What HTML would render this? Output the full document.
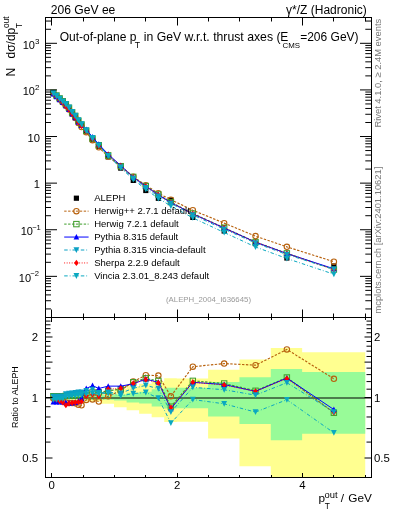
<!DOCTYPE html><html><head><meta charset="utf-8"><style>html,body{margin:0;padding:0;background:#fff;width:393px;height:512px;overflow:hidden}svg{display:block;will-change:transform}</style></head><body>
<svg width="393" height="512" viewBox="0 0 393 512" font-family='"Liberation Sans", sans-serif'>
<path d="M51.37,394.92 L54.50,394.92 L54.50,394.92 L57.64,394.92 L57.64,394.92 L60.77,394.92 L60.77,394.92 L63.91,394.92 L63.91,394.92 L67.04,394.92 L67.04,394.92 L70.18,394.92 L70.18,394.92 L73.31,394.92 L73.31,394.92 L76.45,394.92 L76.45,394.92 L79.58,394.92 L79.58,394.92 L82.72,394.92 L82.72,393.66 L88.98,393.66 L88.98,393.66 L95.25,393.66 L95.25,393.66 L101.52,393.66 L101.52,391.68 L114.06,391.68 L114.06,388.78 L126.60,388.78 L126.60,386.29 L139.14,386.29 L139.14,383.79 L151.68,383.79 L151.68,381.44 L164.22,381.44 L164.22,378.37 L176.75,378.37 L176.75,378.51 L208.10,378.51 L208.10,369.70 L239.45,369.70 L239.45,359.53 L270.79,359.53 L270.79,347.95 L302.14,347.95 L302.14,352.26 L365.23,352.26 L365.23,477.50 L302.14,477.50 L302.14,477.50 L270.79,477.50 L270.79,466.24 L239.45,466.24 L239.45,438.53 L208.10,438.53 L208.10,421.80 L176.75,421.80 L176.75,422.03 L164.22,422.03 L164.22,417.20 L151.68,417.20 L151.68,413.77 L139.14,413.77 L139.14,410.36 L126.60,410.36 L126.60,407.18 L114.06,407.18 L114.06,403.74 L101.52,403.74 L101.52,401.52 L95.25,401.52 L95.25,401.52 L88.98,401.52 L88.98,401.52 L82.72,401.52 L82.72,400.16 L79.58,400.16 L79.58,400.16 L76.45,400.16 L76.45,400.16 L73.31,400.16 L73.31,400.16 L70.18,400.16 L70.18,400.16 L67.04,400.16 L67.04,400.16 L63.91,400.16 L63.91,400.16 L60.77,400.16 L60.77,400.16 L57.64,400.16 L57.64,400.16 L54.50,400.16 L54.50,400.16 L51.37,400.16Z" fill="#ffff90"/>
<path d="M51.37,395.77 L54.50,395.77 L54.50,395.77 L57.64,395.77 L57.64,395.77 L60.77,395.77 L60.77,395.77 L63.91,395.77 L63.91,395.77 L67.04,395.77 L67.04,395.77 L70.18,395.77 L70.18,395.77 L73.31,395.77 L73.31,395.77 L76.45,395.77 L76.45,395.77 L79.58,395.77 L79.58,395.77 L82.72,395.77 L82.72,395.34 L88.98,395.34 L88.98,395.34 L95.25,395.34 L95.25,395.34 L101.52,395.34 L101.52,395.34 L114.06,395.34 L114.06,394.50 L126.60,394.50 L126.60,392.83 L139.14,392.83 L139.14,391.84 L151.68,391.84 L151.68,389.34 L164.22,389.34 L164.22,387.76 L176.75,387.76 L176.75,387.84 L208.10,387.84 L208.10,381.88 L239.45,381.88 L239.45,377.19 L270.79,377.19 L270.79,368.88 L302.14,368.88 L302.14,372.02 L365.23,372.02 L365.23,433.64 L302.14,433.64 L302.14,440.36 L270.79,440.36 L270.79,424.02 L239.45,424.02 L239.45,416.54 L208.10,416.54 L208.10,408.36 L176.75,408.36 L176.75,408.46 L164.22,408.46 L164.22,406.50 L151.68,406.50 L151.68,403.55 L139.14,403.55 L139.14,402.44 L126.60,402.44 L126.60,400.61 L114.06,400.61 L114.06,399.71 L101.52,399.71 L101.52,399.71 L95.25,399.71 L95.25,399.71 L88.98,399.71 L88.98,399.71 L82.72,399.71 L82.72,399.26 L79.58,399.26 L79.58,399.26 L76.45,399.26 L76.45,399.26 L73.31,399.26 L73.31,399.26 L70.18,399.26 L70.18,399.26 L67.04,399.26 L67.04,399.26 L63.91,399.26 L63.91,399.26 L60.77,399.26 L60.77,399.26 L57.64,399.26 L57.64,399.26 L54.50,399.26 L54.50,399.26 L51.37,399.26Z" fill="#98fb98"/>
<line x1="45.5" y1="397.95" x2="371.5" y2="397.95" stroke="#000" stroke-width="1.1"/>
<rect x="50.74" y="90.40" width="5.2" height="5.2" fill="#000"/>
<rect x="53.87" y="93.20" width="5.2" height="5.2" fill="#000"/>
<rect x="57.01" y="96.10" width="5.2" height="5.2" fill="#000"/>
<rect x="60.14" y="98.90" width="5.2" height="5.2" fill="#000"/>
<rect x="63.27" y="102.10" width="5.2" height="5.2" fill="#000"/>
<rect x="66.41" y="105.60" width="5.2" height="5.2" fill="#000"/>
<rect x="69.54" y="110.10" width="5.2" height="5.2" fill="#000"/>
<rect x="72.68" y="114.00" width="5.2" height="5.2" fill="#000"/>
<rect x="75.81" y="118.70" width="5.2" height="5.2" fill="#000"/>
<rect x="78.95" y="122.60" width="5.2" height="5.2" fill="#000"/>
<rect x="83.65" y="129.10" width="5.2" height="5.2" fill="#000"/>
<rect x="89.92" y="137.10" width="5.2" height="5.2" fill="#000"/>
<rect x="96.19" y="143.80" width="5.2" height="5.2" fill="#000"/>
<rect x="105.59" y="154.30" width="5.2" height="5.2" fill="#000"/>
<rect x="118.13" y="165.50" width="5.2" height="5.2" fill="#000"/>
<rect x="130.67" y="177.80" width="5.2" height="5.2" fill="#000"/>
<rect x="143.21" y="187.90" width="5.2" height="5.2" fill="#000"/>
<rect x="155.75" y="195.70" width="5.2" height="5.2" fill="#000"/>
<rect x="168.28" y="197.40" width="5.2" height="5.2" fill="#000"/>
<rect x="190.23" y="214.80" width="5.2" height="5.2" fill="#000"/>
<rect x="221.57" y="228.40" width="5.2" height="5.2" fill="#000"/>
<rect x="252.92" y="241.00" width="5.2" height="5.2" fill="#000"/>
<rect x="284.27" y="255.40" width="5.2" height="5.2" fill="#000"/>
<rect x="331.28" y="263.40" width="5.2" height="5.2" fill="#000"/>
<path d="M53.34,93.20 L56.47,96.11 L59.61,99.21 L62.74,102.33 L65.88,105.85 L69.01,109.45 L72.14,113.95 L75.28,117.96 L78.41,122.99 L81.55,127.00 L86.25,132.25 L92.52,140.15 L98.79,147.33 L108.19,156.62 L120.73,166.54 L133.27,176.71 L145.81,185.33 L158.35,193.22 L170.88,199.70 L192.83,210.26 L224.17,223.13 L255.52,236.11 L286.87,246.85 L333.88,261.66" fill="none" stroke="#b8620e" stroke-width="1.15" stroke-dasharray="2.4,1.5"/>
<circle cx="53.34" cy="93.20" r="2.7" fill="none" stroke="#b8620e" stroke-width="1.1"/>
<circle cx="56.47" cy="96.11" r="2.7" fill="none" stroke="#b8620e" stroke-width="1.1"/>
<circle cx="59.61" cy="99.21" r="2.7" fill="none" stroke="#b8620e" stroke-width="1.1"/>
<circle cx="62.74" cy="102.33" r="2.7" fill="none" stroke="#b8620e" stroke-width="1.1"/>
<circle cx="65.88" cy="105.85" r="2.7" fill="none" stroke="#b8620e" stroke-width="1.1"/>
<circle cx="69.01" cy="109.45" r="2.7" fill="none" stroke="#b8620e" stroke-width="1.1"/>
<circle cx="72.14" cy="113.95" r="2.7" fill="none" stroke="#b8620e" stroke-width="1.1"/>
<circle cx="75.28" cy="117.96" r="2.7" fill="none" stroke="#b8620e" stroke-width="1.1"/>
<circle cx="78.41" cy="122.99" r="2.7" fill="none" stroke="#b8620e" stroke-width="1.1"/>
<circle cx="81.55" cy="127.00" r="2.7" fill="none" stroke="#b8620e" stroke-width="1.1"/>
<circle cx="86.25" cy="132.25" r="2.7" fill="none" stroke="#b8620e" stroke-width="1.1"/>
<circle cx="92.52" cy="140.15" r="2.7" fill="none" stroke="#b8620e" stroke-width="1.1"/>
<circle cx="98.79" cy="147.33" r="2.7" fill="none" stroke="#b8620e" stroke-width="1.1"/>
<circle cx="108.19" cy="156.62" r="2.7" fill="none" stroke="#b8620e" stroke-width="1.1"/>
<circle cx="120.73" cy="166.54" r="2.7" fill="none" stroke="#b8620e" stroke-width="1.1"/>
<circle cx="133.27" cy="176.71" r="2.7" fill="none" stroke="#b8620e" stroke-width="1.1"/>
<circle cx="145.81" cy="185.33" r="2.7" fill="none" stroke="#b8620e" stroke-width="1.1"/>
<circle cx="158.35" cy="193.22" r="2.7" fill="none" stroke="#b8620e" stroke-width="1.1"/>
<circle cx="170.88" cy="199.70" r="2.7" fill="none" stroke="#b8620e" stroke-width="1.1"/>
<circle cx="192.83" cy="210.26" r="2.7" fill="none" stroke="#b8620e" stroke-width="1.1"/>
<circle cx="224.17" cy="223.13" r="2.7" fill="none" stroke="#b8620e" stroke-width="1.1"/>
<circle cx="255.52" cy="236.11" r="2.7" fill="none" stroke="#b8620e" stroke-width="1.1"/>
<circle cx="286.87" cy="246.85" r="2.7" fill="none" stroke="#b8620e" stroke-width="1.1"/>
<circle cx="333.88" cy="261.66" r="2.7" fill="none" stroke="#b8620e" stroke-width="1.1"/>
<path d="M53.34,398.38 L56.47,398.82 L59.61,399.71 L62.74,401.06 L65.88,402.44 L69.01,402.90 L72.14,402.90 L75.28,403.37 L78.41,404.78 L81.55,405.25 L86.25,399.89 L92.52,399.44 L98.79,401.52 L108.19,396.29 L120.73,390.78 L133.27,381.58 L145.81,375.20 L158.35,375.61 L170.88,396.20 L192.83,366.71 L224.17,363.57 L255.52,365.19 L286.87,349.40 L333.88,378.79" fill="none" stroke="#b8620e" stroke-width="1.15" stroke-dasharray="2.4,1.5"/>
<circle cx="53.34" cy="398.38" r="2.7" fill="none" stroke="#b8620e" stroke-width="1.1"/>
<circle cx="56.47" cy="398.82" r="2.7" fill="none" stroke="#b8620e" stroke-width="1.1"/>
<circle cx="59.61" cy="399.71" r="2.7" fill="none" stroke="#b8620e" stroke-width="1.1"/>
<circle cx="62.74" cy="401.06" r="2.7" fill="none" stroke="#b8620e" stroke-width="1.1"/>
<circle cx="65.88" cy="402.44" r="2.7" fill="none" stroke="#b8620e" stroke-width="1.1"/>
<circle cx="69.01" cy="402.90" r="2.7" fill="none" stroke="#b8620e" stroke-width="1.1"/>
<circle cx="72.14" cy="402.90" r="2.7" fill="none" stroke="#b8620e" stroke-width="1.1"/>
<circle cx="75.28" cy="403.37" r="2.7" fill="none" stroke="#b8620e" stroke-width="1.1"/>
<circle cx="78.41" cy="404.78" r="2.7" fill="none" stroke="#b8620e" stroke-width="1.1"/>
<circle cx="81.55" cy="405.25" r="2.7" fill="none" stroke="#b8620e" stroke-width="1.1"/>
<circle cx="86.25" cy="399.89" r="2.7" fill="none" stroke="#b8620e" stroke-width="1.1"/>
<circle cx="92.52" cy="399.44" r="2.7" fill="none" stroke="#b8620e" stroke-width="1.1"/>
<circle cx="98.79" cy="401.52" r="2.7" fill="none" stroke="#b8620e" stroke-width="1.1"/>
<circle cx="108.19" cy="396.29" r="2.7" fill="none" stroke="#b8620e" stroke-width="1.1"/>
<circle cx="120.73" cy="390.78" r="2.7" fill="none" stroke="#b8620e" stroke-width="1.1"/>
<circle cx="133.27" cy="381.58" r="2.7" fill="none" stroke="#b8620e" stroke-width="1.1"/>
<circle cx="145.81" cy="375.20" r="2.7" fill="none" stroke="#b8620e" stroke-width="1.1"/>
<circle cx="158.35" cy="375.61" r="2.7" fill="none" stroke="#b8620e" stroke-width="1.1"/>
<circle cx="170.88" cy="396.20" r="2.7" fill="none" stroke="#b8620e" stroke-width="1.1"/>
<circle cx="192.83" cy="366.71" r="2.7" fill="none" stroke="#b8620e" stroke-width="1.1"/>
<circle cx="224.17" cy="363.57" r="2.7" fill="none" stroke="#b8620e" stroke-width="1.1"/>
<circle cx="255.52" cy="365.19" r="2.7" fill="none" stroke="#b8620e" stroke-width="1.1"/>
<circle cx="286.87" cy="349.40" r="2.7" fill="none" stroke="#b8620e" stroke-width="1.1"/>
<circle cx="333.88" cy="378.79" r="2.7" fill="none" stroke="#b8620e" stroke-width="1.1"/>
<path d="M53.34,92.70 L56.47,95.50 L59.61,98.40 L62.74,101.20 L65.88,104.30 L69.01,107.80 L72.14,112.30 L75.28,116.00 L78.41,120.70 L81.55,124.60 L86.25,130.71 L92.52,138.52 L98.79,145.22 L108.19,155.34 L120.73,166.17 L133.27,176.88 L145.81,186.06 L158.35,194.44 L170.88,202.13 L192.83,213.54 L224.17,227.75 L255.52,242.04 L286.87,253.37 L333.88,269.53" fill="none" stroke="#3c9c28" stroke-width="1.15" stroke-dasharray="2.4,1.5"/>
<rect x="50.64" y="90.00" width="5.4" height="5.4" fill="none" stroke="#3c9c28" stroke-width="1"/>
<rect x="53.77" y="92.80" width="5.4" height="5.4" fill="none" stroke="#3c9c28" stroke-width="1"/>
<rect x="56.91" y="95.70" width="5.4" height="5.4" fill="none" stroke="#3c9c28" stroke-width="1"/>
<rect x="60.04" y="98.50" width="5.4" height="5.4" fill="none" stroke="#3c9c28" stroke-width="1"/>
<rect x="63.17" y="101.60" width="5.4" height="5.4" fill="none" stroke="#3c9c28" stroke-width="1"/>
<rect x="66.31" y="105.10" width="5.4" height="5.4" fill="none" stroke="#3c9c28" stroke-width="1"/>
<rect x="69.44" y="109.60" width="5.4" height="5.4" fill="none" stroke="#3c9c28" stroke-width="1"/>
<rect x="72.58" y="113.30" width="5.4" height="5.4" fill="none" stroke="#3c9c28" stroke-width="1"/>
<rect x="75.71" y="118.00" width="5.4" height="5.4" fill="none" stroke="#3c9c28" stroke-width="1"/>
<rect x="78.85" y="121.90" width="5.4" height="5.4" fill="none" stroke="#3c9c28" stroke-width="1"/>
<rect x="83.55" y="128.01" width="5.4" height="5.4" fill="none" stroke="#3c9c28" stroke-width="1"/>
<rect x="89.82" y="135.82" width="5.4" height="5.4" fill="none" stroke="#3c9c28" stroke-width="1"/>
<rect x="96.09" y="142.52" width="5.4" height="5.4" fill="none" stroke="#3c9c28" stroke-width="1"/>
<rect x="105.49" y="152.64" width="5.4" height="5.4" fill="none" stroke="#3c9c28" stroke-width="1"/>
<rect x="118.03" y="163.47" width="5.4" height="5.4" fill="none" stroke="#3c9c28" stroke-width="1"/>
<rect x="130.57" y="174.18" width="5.4" height="5.4" fill="none" stroke="#3c9c28" stroke-width="1"/>
<rect x="143.11" y="183.36" width="5.4" height="5.4" fill="none" stroke="#3c9c28" stroke-width="1"/>
<rect x="155.65" y="191.74" width="5.4" height="5.4" fill="none" stroke="#3c9c28" stroke-width="1"/>
<rect x="168.18" y="199.43" width="5.4" height="5.4" fill="none" stroke="#3c9c28" stroke-width="1"/>
<rect x="190.13" y="210.84" width="5.4" height="5.4" fill="none" stroke="#3c9c28" stroke-width="1"/>
<rect x="221.47" y="225.05" width="5.4" height="5.4" fill="none" stroke="#3c9c28" stroke-width="1"/>
<rect x="252.82" y="239.34" width="5.4" height="5.4" fill="none" stroke="#3c9c28" stroke-width="1"/>
<rect x="284.17" y="250.67" width="5.4" height="5.4" fill="none" stroke="#3c9c28" stroke-width="1"/>
<rect x="331.18" y="266.83" width="5.4" height="5.4" fill="none" stroke="#3c9c28" stroke-width="1"/>
<path d="M53.34,396.20 L56.47,396.20 L59.61,396.20 L62.74,396.20 L65.88,395.77 L69.01,395.77 L72.14,395.77 L75.28,394.92 L78.41,394.92 L81.55,394.92 L86.25,393.24 L92.52,392.41 L98.79,392.41 L108.19,390.78 L120.73,389.18 L133.27,382.32 L145.81,378.37 L158.35,380.86 L170.88,406.70 L192.83,380.86 L224.17,383.50 L255.52,390.78 L286.87,377.53 L333.88,412.72" fill="none" stroke="#3c9c28" stroke-width="1.15" stroke-dasharray="2.4,1.5"/>
<rect x="50.64" y="393.50" width="5.4" height="5.4" fill="none" stroke="#3c9c28" stroke-width="1"/>
<rect x="53.77" y="393.50" width="5.4" height="5.4" fill="none" stroke="#3c9c28" stroke-width="1"/>
<rect x="56.91" y="393.50" width="5.4" height="5.4" fill="none" stroke="#3c9c28" stroke-width="1"/>
<rect x="60.04" y="393.50" width="5.4" height="5.4" fill="none" stroke="#3c9c28" stroke-width="1"/>
<rect x="63.17" y="393.07" width="5.4" height="5.4" fill="none" stroke="#3c9c28" stroke-width="1"/>
<rect x="66.31" y="393.07" width="5.4" height="5.4" fill="none" stroke="#3c9c28" stroke-width="1"/>
<rect x="69.44" y="393.07" width="5.4" height="5.4" fill="none" stroke="#3c9c28" stroke-width="1"/>
<rect x="72.58" y="392.22" width="5.4" height="5.4" fill="none" stroke="#3c9c28" stroke-width="1"/>
<rect x="75.71" y="392.22" width="5.4" height="5.4" fill="none" stroke="#3c9c28" stroke-width="1"/>
<rect x="78.85" y="392.22" width="5.4" height="5.4" fill="none" stroke="#3c9c28" stroke-width="1"/>
<rect x="83.55" y="390.54" width="5.4" height="5.4" fill="none" stroke="#3c9c28" stroke-width="1"/>
<rect x="89.82" y="389.71" width="5.4" height="5.4" fill="none" stroke="#3c9c28" stroke-width="1"/>
<rect x="96.09" y="389.71" width="5.4" height="5.4" fill="none" stroke="#3c9c28" stroke-width="1"/>
<rect x="105.49" y="388.08" width="5.4" height="5.4" fill="none" stroke="#3c9c28" stroke-width="1"/>
<rect x="118.03" y="386.48" width="5.4" height="5.4" fill="none" stroke="#3c9c28" stroke-width="1"/>
<rect x="130.57" y="379.62" width="5.4" height="5.4" fill="none" stroke="#3c9c28" stroke-width="1"/>
<rect x="143.11" y="375.67" width="5.4" height="5.4" fill="none" stroke="#3c9c28" stroke-width="1"/>
<rect x="155.65" y="378.16" width="5.4" height="5.4" fill="none" stroke="#3c9c28" stroke-width="1"/>
<rect x="168.18" y="404.00" width="5.4" height="5.4" fill="none" stroke="#3c9c28" stroke-width="1"/>
<rect x="190.13" y="378.16" width="5.4" height="5.4" fill="none" stroke="#3c9c28" stroke-width="1"/>
<rect x="221.47" y="380.80" width="5.4" height="5.4" fill="none" stroke="#3c9c28" stroke-width="1"/>
<rect x="252.82" y="388.08" width="5.4" height="5.4" fill="none" stroke="#3c9c28" stroke-width="1"/>
<rect x="284.17" y="374.83" width="5.4" height="5.4" fill="none" stroke="#3c9c28" stroke-width="1"/>
<rect x="331.18" y="410.02" width="5.4" height="5.4" fill="none" stroke="#3c9c28" stroke-width="1"/>
<path d="M53.34,94.04 L56.47,96.84 L59.61,99.74 L62.74,102.54 L65.88,105.85 L69.01,109.45 L72.14,113.95 L75.28,117.75 L78.41,122.13 L81.55,125.40 L86.25,129.61 L92.52,136.94 L98.79,144.31 L108.19,154.27 L120.73,165.47 L133.27,177.22 L145.81,186.23 L158.35,194.78 L170.88,202.59 L192.83,213.88 L224.17,228.00 L255.52,242.17 L286.87,253.48 L333.88,268.80" fill="none" stroke="#0000ff" stroke-width="1.0"/>
<path d="M50.54,96.54L56.14,96.54L53.34,91.04Z" fill="#0000ff"/>
<path d="M53.67,99.34L59.27,99.34L56.47,93.84Z" fill="#0000ff"/>
<path d="M56.81,102.24L62.41,102.24L59.61,96.74Z" fill="#0000ff"/>
<path d="M59.94,105.04L65.54,105.04L62.74,99.54Z" fill="#0000ff"/>
<path d="M63.08,108.35L68.67,108.35L65.88,102.85Z" fill="#0000ff"/>
<path d="M66.21,111.95L71.81,111.95L69.01,106.45Z" fill="#0000ff"/>
<path d="M69.34,116.45L74.94,116.45L72.14,110.95Z" fill="#0000ff"/>
<path d="M72.48,120.25L78.08,120.25L75.28,114.75Z" fill="#0000ff"/>
<path d="M75.61,124.63L81.21,124.63L78.41,119.13Z" fill="#0000ff"/>
<path d="M78.75,127.90L84.35,127.90L81.55,122.40Z" fill="#0000ff"/>
<path d="M83.45,132.11L89.05,132.11L86.25,126.61Z" fill="#0000ff"/>
<path d="M89.72,139.44L95.32,139.44L92.52,133.94Z" fill="#0000ff"/>
<path d="M95.99,146.81L101.59,146.81L98.79,141.31Z" fill="#0000ff"/>
<path d="M105.39,156.77L110.99,156.77L108.19,151.27Z" fill="#0000ff"/>
<path d="M117.93,167.97L123.53,167.97L120.73,162.47Z" fill="#0000ff"/>
<path d="M130.47,179.72L136.07,179.72L133.27,174.22Z" fill="#0000ff"/>
<path d="M143.01,188.73L148.61,188.73L145.81,183.23Z" fill="#0000ff"/>
<path d="M155.55,197.28L161.15,197.28L158.35,191.78Z" fill="#0000ff"/>
<path d="M168.08,205.09L173.68,205.09L170.88,199.59Z" fill="#0000ff"/>
<path d="M190.03,216.38L195.63,216.38L192.83,210.88Z" fill="#0000ff"/>
<path d="M221.37,230.50L226.97,230.50L224.17,225.00Z" fill="#0000ff"/>
<path d="M252.72,244.67L258.32,244.67L255.52,239.17Z" fill="#0000ff"/>
<path d="M284.07,255.98L289.67,255.98L286.87,250.48Z" fill="#0000ff"/>
<path d="M331.08,271.30L336.68,271.30L333.88,265.80Z" fill="#0000ff"/>
<path d="M53.34,401.98 L56.47,401.98 L59.61,401.98 L62.74,401.98 L65.88,402.44 L69.01,402.90 L72.14,402.90 L75.28,402.44 L78.41,401.06 L81.55,398.38 L86.25,388.47 L92.52,385.60 L98.79,388.47 L108.19,386.14 L120.73,386.14 L133.27,383.79 L145.81,379.07 L158.35,382.32 L170.88,408.66 L192.83,382.32 L224.17,384.54 L255.52,391.35 L286.87,378.02 L333.88,409.56" fill="none" stroke="#0000ff" stroke-width="1.0"/>
<path d="M50.54,404.48L56.14,404.48L53.34,398.98Z" fill="#0000ff"/>
<path d="M53.67,404.48L59.27,404.48L56.47,398.98Z" fill="#0000ff"/>
<path d="M56.81,404.48L62.41,404.48L59.61,398.98Z" fill="#0000ff"/>
<path d="M59.94,404.48L65.54,404.48L62.74,398.98Z" fill="#0000ff"/>
<path d="M63.08,404.94L68.67,404.94L65.88,399.44Z" fill="#0000ff"/>
<path d="M66.21,405.40L71.81,405.40L69.01,399.90Z" fill="#0000ff"/>
<path d="M69.34,405.40L74.94,405.40L72.14,399.90Z" fill="#0000ff"/>
<path d="M72.48,404.94L78.08,404.94L75.28,399.44Z" fill="#0000ff"/>
<path d="M75.61,403.56L81.21,403.56L78.41,398.06Z" fill="#0000ff"/>
<path d="M78.75,400.88L84.35,400.88L81.55,395.38Z" fill="#0000ff"/>
<path d="M83.45,390.97L89.05,390.97L86.25,385.47Z" fill="#0000ff"/>
<path d="M89.72,388.10L95.32,388.10L92.52,382.60Z" fill="#0000ff"/>
<path d="M95.99,390.97L101.59,390.97L98.79,385.47Z" fill="#0000ff"/>
<path d="M105.39,388.64L110.99,388.64L108.19,383.14Z" fill="#0000ff"/>
<path d="M117.93,388.64L123.53,388.64L120.73,383.14Z" fill="#0000ff"/>
<path d="M130.47,386.29L136.07,386.29L133.27,380.79Z" fill="#0000ff"/>
<path d="M143.01,381.57L148.61,381.57L145.81,376.07Z" fill="#0000ff"/>
<path d="M155.55,384.82L161.15,384.82L158.35,379.32Z" fill="#0000ff"/>
<path d="M168.08,411.16L173.68,411.16L170.88,405.66Z" fill="#0000ff"/>
<path d="M190.03,384.82L195.63,384.82L192.83,379.32Z" fill="#0000ff"/>
<path d="M221.37,387.04L226.97,387.04L224.17,381.54Z" fill="#0000ff"/>
<path d="M252.72,393.85L258.32,393.85L255.52,388.35Z" fill="#0000ff"/>
<path d="M284.07,380.52L289.67,380.52L286.87,375.02Z" fill="#0000ff"/>
<path d="M331.08,412.06L336.68,412.06L333.88,406.56Z" fill="#0000ff"/>
<path d="M53.34,93.31 L56.47,96.31 L59.61,99.53 L62.74,102.65 L65.88,106.50 L69.01,109.56 L72.14,113.95 L75.28,117.75 L78.41,122.34 L81.55,126.13 L86.25,131.34 L92.52,138.96 L98.79,146.14 L108.19,154.95 L120.73,165.97 L133.27,177.14 L145.81,186.38 L158.35,194.92 L170.88,202.36 L192.83,213.88 L224.17,228.12 L255.52,242.17 L286.87,253.61 L333.88,269.48" fill="none" stroke="#ff0000" stroke-width="0.9" stroke-dasharray="0.9,1.6"/>
<path d="M53.34,90.21L55.64,93.31L53.34,96.41L51.04,93.31Z" fill="#ff0000"/>
<path d="M56.47,93.21L58.77,96.31L56.47,99.41L54.17,96.31Z" fill="#ff0000"/>
<path d="M59.61,96.43L61.91,99.53L59.61,102.63L57.31,99.53Z" fill="#ff0000"/>
<path d="M62.74,99.55L65.04,102.65L62.74,105.75L60.44,102.65Z" fill="#ff0000"/>
<path d="M65.88,103.40L68.17,106.50L65.88,109.60L63.58,106.50Z" fill="#ff0000"/>
<path d="M69.01,106.46L71.31,109.56L69.01,112.66L66.71,109.56Z" fill="#ff0000"/>
<path d="M72.14,110.85L74.44,113.95L72.14,117.05L69.84,113.95Z" fill="#ff0000"/>
<path d="M75.28,114.65L77.58,117.75L75.28,120.85L72.98,117.75Z" fill="#ff0000"/>
<path d="M78.41,119.24L80.71,122.34L78.41,125.44L76.11,122.34Z" fill="#ff0000"/>
<path d="M81.55,123.03L83.85,126.13L81.55,129.23L79.25,126.13Z" fill="#ff0000"/>
<path d="M86.25,128.24L88.55,131.34L86.25,134.44L83.95,131.34Z" fill="#ff0000"/>
<path d="M92.52,135.86L94.82,138.96L92.52,142.06L90.22,138.96Z" fill="#ff0000"/>
<path d="M98.79,143.04L101.09,146.14L98.79,149.24L96.49,146.14Z" fill="#ff0000"/>
<path d="M108.19,151.85L110.49,154.95L108.19,158.05L105.89,154.95Z" fill="#ff0000"/>
<path d="M120.73,162.87L123.03,165.97L120.73,169.07L118.43,165.97Z" fill="#ff0000"/>
<path d="M133.27,174.04L135.57,177.14L133.27,180.24L130.97,177.14Z" fill="#ff0000"/>
<path d="M145.81,183.28L148.11,186.38L145.81,189.48L143.51,186.38Z" fill="#ff0000"/>
<path d="M158.35,191.82L160.65,194.92L158.35,198.02L156.05,194.92Z" fill="#ff0000"/>
<path d="M170.88,199.26L173.18,202.36L170.88,205.46L168.58,202.36Z" fill="#ff0000"/>
<path d="M192.83,210.78L195.13,213.88L192.83,216.98L190.53,213.88Z" fill="#ff0000"/>
<path d="M224.17,225.02L226.47,228.12L224.17,231.22L221.87,228.12Z" fill="#ff0000"/>
<path d="M255.52,239.07L257.82,242.17L255.52,245.27L253.22,242.17Z" fill="#ff0000"/>
<path d="M286.87,250.51L289.17,253.61L286.87,256.71L284.57,253.61Z" fill="#ff0000"/>
<path d="M333.88,266.38L336.18,269.48L333.88,272.58L331.58,269.48Z" fill="#ff0000"/>
<path d="M53.34,398.82 L56.47,399.71 L59.61,401.06 L62.74,402.44 L65.88,405.25 L69.01,403.37 L72.14,402.90 L75.28,402.44 L78.41,401.98 L81.55,401.52 L86.25,395.94 L92.52,394.33 L98.79,396.37 L108.19,389.10 L120.73,388.31 L133.27,383.42 L145.81,379.71 L158.35,382.90 L170.88,407.67 L192.83,382.32 L224.17,385.07 L255.52,391.35 L286.87,378.58 L333.88,412.51" fill="none" stroke="#ff0000" stroke-width="0.9" stroke-dasharray="0.9,1.6"/>
<path d="M53.34,395.72L55.64,398.82L53.34,401.92L51.04,398.82Z" fill="#ff0000"/>
<path d="M56.47,396.61L58.77,399.71L56.47,402.81L54.17,399.71Z" fill="#ff0000"/>
<path d="M59.61,397.96L61.91,401.06L59.61,404.16L57.31,401.06Z" fill="#ff0000"/>
<path d="M62.74,399.34L65.04,402.44L62.74,405.54L60.44,402.44Z" fill="#ff0000"/>
<path d="M65.88,402.15L68.17,405.25L65.88,408.35L63.58,405.25Z" fill="#ff0000"/>
<path d="M69.01,400.27L71.31,403.37L69.01,406.47L66.71,403.37Z" fill="#ff0000"/>
<path d="M72.14,399.80L74.44,402.90L72.14,406.00L69.84,402.90Z" fill="#ff0000"/>
<path d="M75.28,399.34L77.58,402.44L75.28,405.54L72.98,402.44Z" fill="#ff0000"/>
<path d="M78.41,398.88L80.71,401.98L78.41,405.08L76.11,401.98Z" fill="#ff0000"/>
<path d="M81.55,398.42L83.85,401.52L81.55,404.62L79.25,401.52Z" fill="#ff0000"/>
<path d="M86.25,392.84L88.55,395.94L86.25,399.04L83.95,395.94Z" fill="#ff0000"/>
<path d="M92.52,391.23L94.82,394.33L92.52,397.43L90.22,394.33Z" fill="#ff0000"/>
<path d="M98.79,393.27L101.09,396.37L98.79,399.47L96.49,396.37Z" fill="#ff0000"/>
<path d="M108.19,386.00L110.49,389.10L108.19,392.20L105.89,389.10Z" fill="#ff0000"/>
<path d="M120.73,385.21L123.03,388.31L120.73,391.41L118.43,388.31Z" fill="#ff0000"/>
<path d="M133.27,380.32L135.57,383.42L133.27,386.52L130.97,383.42Z" fill="#ff0000"/>
<path d="M145.81,376.61L148.11,379.71L145.81,382.81L143.51,379.71Z" fill="#ff0000"/>
<path d="M158.35,379.80L160.65,382.90L158.35,386.00L156.05,382.90Z" fill="#ff0000"/>
<path d="M170.88,404.57L173.18,407.67L170.88,410.77L168.58,407.67Z" fill="#ff0000"/>
<path d="M192.83,379.22L195.13,382.32L192.83,385.42L190.53,382.32Z" fill="#ff0000"/>
<path d="M224.17,381.97L226.47,385.07L224.17,388.17L221.87,385.07Z" fill="#ff0000"/>
<path d="M255.52,388.25L257.82,391.35L255.52,394.45L253.22,391.35Z" fill="#ff0000"/>
<path d="M286.87,375.48L289.17,378.58L286.87,381.68L284.57,378.58Z" fill="#ff0000"/>
<path d="M333.88,409.41L336.18,412.51L333.88,415.61L331.58,412.51Z" fill="#ff0000"/>
<path d="M53.34,92.80 L56.47,95.60 L59.61,98.50 L62.74,101.20 L65.88,103.91 L69.01,107.31 L72.14,111.71 L75.28,115.52 L78.41,120.12 L81.55,124.02 L86.25,130.14 L92.52,137.88 L98.79,145.32 L108.19,155.70 L120.73,167.11 L133.27,178.27 L145.81,187.69 L158.35,196.24 L170.88,203.39 L192.83,215.05 L224.17,229.20 L255.52,243.06 L286.87,254.56 L333.88,269.36" fill="none" stroke="#0aa0c4" stroke-width="1.0" stroke-dasharray="3.5,2,0.8,2"/>
<path d="M50.44,90.00L56.24,90.00L53.34,95.80Z" fill="#0aa0c4"/>
<path d="M53.57,92.80L59.37,92.80L56.47,98.60Z" fill="#0aa0c4"/>
<path d="M56.71,95.70L62.51,95.70L59.61,101.50Z" fill="#0aa0c4"/>
<path d="M59.84,98.40L65.64,98.40L62.74,104.20Z" fill="#0aa0c4"/>
<path d="M62.98,101.11L68.78,101.11L65.88,106.91Z" fill="#0aa0c4"/>
<path d="M66.11,104.51L71.91,104.51L69.01,110.31Z" fill="#0aa0c4"/>
<path d="M69.24,108.91L75.04,108.91L72.14,114.71Z" fill="#0aa0c4"/>
<path d="M72.38,112.72L78.18,112.72L75.28,118.52Z" fill="#0aa0c4"/>
<path d="M75.51,117.32L81.31,117.32L78.41,123.12Z" fill="#0aa0c4"/>
<path d="M78.65,121.22L84.45,121.22L81.55,127.02Z" fill="#0aa0c4"/>
<path d="M83.35,127.34L89.15,127.34L86.25,133.14Z" fill="#0aa0c4"/>
<path d="M89.62,135.08L95.42,135.08L92.52,140.88Z" fill="#0aa0c4"/>
<path d="M95.89,142.52L101.69,142.52L98.79,148.32Z" fill="#0aa0c4"/>
<path d="M105.29,152.90L111.09,152.90L108.19,158.70Z" fill="#0aa0c4"/>
<path d="M117.83,164.31L123.63,164.31L120.73,170.11Z" fill="#0aa0c4"/>
<path d="M130.37,175.47L136.17,175.47L133.27,181.27Z" fill="#0aa0c4"/>
<path d="M142.91,184.89L148.71,184.89L145.81,190.69Z" fill="#0aa0c4"/>
<path d="M155.45,193.44L161.25,193.44L158.35,199.24Z" fill="#0aa0c4"/>
<path d="M167.98,200.59L173.78,200.59L170.88,206.39Z" fill="#0aa0c4"/>
<path d="M189.93,212.25L195.73,212.25L192.83,218.05Z" fill="#0aa0c4"/>
<path d="M221.27,226.40L227.07,226.40L224.17,232.20Z" fill="#0aa0c4"/>
<path d="M252.62,240.26L258.42,240.26L255.52,246.06Z" fill="#0aa0c4"/>
<path d="M283.97,251.76L289.77,251.76L286.87,257.56Z" fill="#0aa0c4"/>
<path d="M330.98,266.56L336.78,266.56L333.88,272.36Z" fill="#0aa0c4"/>
<path d="M53.34,396.63 L56.47,396.63 L59.61,396.63 L62.74,396.20 L65.88,394.08 L69.01,393.66 L72.14,393.24 L75.28,392.83 L78.41,392.41 L81.55,392.41 L86.25,390.78 L92.52,389.66 L98.79,392.83 L108.19,392.33 L120.73,393.24 L133.27,388.31 L145.81,385.38 L158.35,388.63 L170.88,412.10 L192.83,387.37 L224.17,389.74 L255.52,395.17 L286.87,382.68 L333.88,412.00" fill="none" stroke="#0aa0c4" stroke-width="1.0" stroke-dasharray="3.5,2,0.8,2"/>
<path d="M50.44,393.83L56.24,393.83L53.34,399.63Z" fill="#0aa0c4"/>
<path d="M53.57,393.83L59.37,393.83L56.47,399.63Z" fill="#0aa0c4"/>
<path d="M56.71,393.83L62.51,393.83L59.61,399.63Z" fill="#0aa0c4"/>
<path d="M59.84,393.40L65.64,393.40L62.74,399.20Z" fill="#0aa0c4"/>
<path d="M62.98,391.28L68.78,391.28L65.88,397.08Z" fill="#0aa0c4"/>
<path d="M66.11,390.86L71.91,390.86L69.01,396.66Z" fill="#0aa0c4"/>
<path d="M69.24,390.44L75.04,390.44L72.14,396.24Z" fill="#0aa0c4"/>
<path d="M72.38,390.03L78.18,390.03L75.28,395.83Z" fill="#0aa0c4"/>
<path d="M75.51,389.61L81.31,389.61L78.41,395.41Z" fill="#0aa0c4"/>
<path d="M78.65,389.61L84.45,389.61L81.55,395.41Z" fill="#0aa0c4"/>
<path d="M83.35,387.98L89.15,387.98L86.25,393.78Z" fill="#0aa0c4"/>
<path d="M89.62,386.86L95.42,386.86L92.52,392.66Z" fill="#0aa0c4"/>
<path d="M95.89,390.03L101.69,390.03L98.79,395.83Z" fill="#0aa0c4"/>
<path d="M105.29,389.53L111.09,389.53L108.19,395.33Z" fill="#0aa0c4"/>
<path d="M117.83,390.44L123.63,390.44L120.73,396.24Z" fill="#0aa0c4"/>
<path d="M130.37,385.51L136.17,385.51L133.27,391.31Z" fill="#0aa0c4"/>
<path d="M142.91,382.58L148.71,382.58L145.81,388.38Z" fill="#0aa0c4"/>
<path d="M155.45,385.83L161.25,385.83L158.35,391.63Z" fill="#0aa0c4"/>
<path d="M167.98,409.30L173.78,409.30L170.88,415.10Z" fill="#0aa0c4"/>
<path d="M189.93,384.57L195.73,384.57L192.83,390.37Z" fill="#0aa0c4"/>
<path d="M221.27,386.94L227.07,386.94L224.17,392.74Z" fill="#0aa0c4"/>
<path d="M252.62,392.37L258.42,392.37L255.52,398.17Z" fill="#0aa0c4"/>
<path d="M283.97,379.88L289.77,379.88L286.87,385.68Z" fill="#0aa0c4"/>
<path d="M330.98,409.20L336.78,409.20L333.88,415.00Z" fill="#0aa0c4"/>
<path d="M53.34,93.51 L56.47,96.31 L59.61,99.11 L62.74,101.81 L65.88,104.50 L69.01,108.00 L72.14,112.30 L75.28,116.20 L78.41,120.70 L81.55,124.60 L86.25,130.91 L92.52,138.71 L98.79,145.61 L108.19,155.91 L120.73,167.70 L133.27,179.51 L145.81,189.32 L158.35,198.44 L170.88,205.93 L192.83,217.87 L224.17,232.47 L255.52,246.99 L286.87,258.51 L333.88,274.20" fill="none" stroke="#0aa8c0" stroke-width="1.0" stroke-dasharray="3.5,2,0.8,2"/>
<path d="M50.44,90.71L56.24,90.71L53.34,96.51Z" fill="#0aa8c0"/>
<path d="M53.57,93.51L59.37,93.51L56.47,99.31Z" fill="#0aa8c0"/>
<path d="M56.71,96.31L62.51,96.31L59.61,102.11Z" fill="#0aa8c0"/>
<path d="M59.84,99.01L65.64,99.01L62.74,104.81Z" fill="#0aa8c0"/>
<path d="M62.98,101.70L68.78,101.70L65.88,107.50Z" fill="#0aa8c0"/>
<path d="M66.11,105.20L71.91,105.20L69.01,111.00Z" fill="#0aa8c0"/>
<path d="M69.24,109.50L75.04,109.50L72.14,115.30Z" fill="#0aa8c0"/>
<path d="M72.38,113.40L78.18,113.40L75.28,119.20Z" fill="#0aa8c0"/>
<path d="M75.51,117.90L81.31,117.90L78.41,123.70Z" fill="#0aa8c0"/>
<path d="M78.65,121.80L84.45,121.80L81.55,127.60Z" fill="#0aa8c0"/>
<path d="M83.35,128.11L89.15,128.11L86.25,133.91Z" fill="#0aa8c0"/>
<path d="M89.62,135.91L95.42,135.91L92.52,141.71Z" fill="#0aa8c0"/>
<path d="M95.89,142.81L101.69,142.81L98.79,148.61Z" fill="#0aa8c0"/>
<path d="M105.29,153.11L111.09,153.11L108.19,158.91Z" fill="#0aa8c0"/>
<path d="M117.83,164.90L123.63,164.90L120.73,170.70Z" fill="#0aa8c0"/>
<path d="M130.37,176.71L136.17,176.71L133.27,182.51Z" fill="#0aa8c0"/>
<path d="M142.91,186.52L148.71,186.52L145.81,192.32Z" fill="#0aa8c0"/>
<path d="M155.45,195.64L161.25,195.64L158.35,201.44Z" fill="#0aa8c0"/>
<path d="M167.98,203.13L173.78,203.13L170.88,208.93Z" fill="#0aa8c0"/>
<path d="M189.93,215.07L195.73,215.07L192.83,220.87Z" fill="#0aa8c0"/>
<path d="M221.27,229.67L227.07,229.67L224.17,235.47Z" fill="#0aa8c0"/>
<path d="M252.62,244.19L258.42,244.19L255.52,249.99Z" fill="#0aa8c0"/>
<path d="M283.97,255.71L289.77,255.71L286.87,261.51Z" fill="#0aa8c0"/>
<path d="M330.98,271.40L336.78,271.40L333.88,277.20Z" fill="#0aa8c0"/>
<path d="M53.34,399.71 L56.47,399.71 L59.61,399.26 L62.74,398.82 L65.88,396.63 L69.01,396.63 L72.14,395.77 L75.28,395.77 L78.41,394.92 L81.55,394.92 L86.25,394.08 L92.52,393.24 L98.79,394.08 L108.19,393.24 L120.73,395.77 L133.27,393.66 L145.81,392.41 L158.35,398.11 L170.88,423.08 L192.83,399.53 L224.17,403.83 L255.52,412.10 L286.87,399.71 L333.88,432.85" fill="none" stroke="#0aa8c0" stroke-width="1.0" stroke-dasharray="3.5,2,0.8,2"/>
<path d="M50.44,396.91L56.24,396.91L53.34,402.71Z" fill="#0aa8c0"/>
<path d="M53.57,396.91L59.37,396.91L56.47,402.71Z" fill="#0aa8c0"/>
<path d="M56.71,396.46L62.51,396.46L59.61,402.26Z" fill="#0aa8c0"/>
<path d="M59.84,396.02L65.64,396.02L62.74,401.82Z" fill="#0aa8c0"/>
<path d="M62.98,393.83L68.78,393.83L65.88,399.63Z" fill="#0aa8c0"/>
<path d="M66.11,393.83L71.91,393.83L69.01,399.63Z" fill="#0aa8c0"/>
<path d="M69.24,392.97L75.04,392.97L72.14,398.77Z" fill="#0aa8c0"/>
<path d="M72.38,392.97L78.18,392.97L75.28,398.77Z" fill="#0aa8c0"/>
<path d="M75.51,392.12L81.31,392.12L78.41,397.92Z" fill="#0aa8c0"/>
<path d="M78.65,392.12L84.45,392.12L81.55,397.92Z" fill="#0aa8c0"/>
<path d="M83.35,391.28L89.15,391.28L86.25,397.08Z" fill="#0aa8c0"/>
<path d="M89.62,390.44L95.42,390.44L92.52,396.24Z" fill="#0aa8c0"/>
<path d="M95.89,391.28L101.69,391.28L98.79,397.08Z" fill="#0aa8c0"/>
<path d="M105.29,390.44L111.09,390.44L108.19,396.24Z" fill="#0aa8c0"/>
<path d="M117.83,392.97L123.63,392.97L120.73,398.77Z" fill="#0aa8c0"/>
<path d="M130.37,390.86L136.17,390.86L133.27,396.66Z" fill="#0aa8c0"/>
<path d="M142.91,389.61L148.71,389.61L145.81,395.41Z" fill="#0aa8c0"/>
<path d="M155.45,395.31L161.25,395.31L158.35,401.11Z" fill="#0aa8c0"/>
<path d="M167.98,420.28L173.78,420.28L170.88,426.08Z" fill="#0aa8c0"/>
<path d="M189.93,396.73L195.73,396.73L192.83,402.53Z" fill="#0aa8c0"/>
<path d="M221.27,401.03L227.07,401.03L224.17,406.83Z" fill="#0aa8c0"/>
<path d="M252.62,409.30L258.42,409.30L255.52,415.10Z" fill="#0aa8c0"/>
<path d="M283.97,396.91L289.77,396.91L286.87,402.71Z" fill="#0aa8c0"/>
<path d="M330.98,430.05L336.78,430.05L333.88,435.85Z" fill="#0aa8c0"/>
<g stroke="#000" stroke-width="1" fill="none">
<path d="M51.5,17.5v8M51.5,317.5v-8M51.5,317.5v4.5M51.5,477.5v-4.5M83.5,17.5v4M83.5,317.5v-4M83.5,317.5v2.5M83.5,477.5v-2.5M114.5,17.5v4M114.5,317.5v-4M114.5,317.5v2.5M114.5,477.5v-2.5M145.5,17.5v4M145.5,317.5v-4M145.5,317.5v2.5M145.5,477.5v-2.5M177.5,17.5v8M177.5,317.5v-8M177.5,317.5v4.5M177.5,477.5v-4.5M208.5,17.5v4M208.5,317.5v-4M208.5,317.5v2.5M208.5,477.5v-2.5M239.5,17.5v4M239.5,317.5v-4M239.5,317.5v2.5M239.5,477.5v-2.5M271.5,17.5v4M271.5,317.5v-4M271.5,317.5v2.5M271.5,477.5v-2.5M302.5,17.5v8M302.5,317.5v-8M302.5,317.5v4.5M302.5,477.5v-4.5M333.5,17.5v4M333.5,317.5v-4M333.5,317.5v2.5M333.5,477.5v-2.5M365.5,17.5v4M365.5,317.5v-4M365.5,317.5v2.5M365.5,477.5v-2.5M45.5,308.93h5.5M371.5,308.93h-6.2M45.5,300.72h5.5M371.5,300.72h-6.2M45.5,294.90h5.5M371.5,294.90h-6.2M45.5,290.38h5.5M371.5,290.38h-6.2M45.5,286.69h5.5M371.5,286.69h-6.2M45.5,283.57h5.5M371.5,283.57h-6.2M45.5,280.87h5.5M371.5,280.87h-6.2M45.5,278.48h5.5M371.5,278.48h-6.2M45.5,276.35h11.5M371.5,276.35h-11.5M45.5,262.32h5.5M371.5,262.32h-6.2M45.5,254.11h5.5M371.5,254.11h-6.2M45.5,248.29h5.5M371.5,248.29h-6.2M45.5,243.77h5.5M371.5,243.77h-6.2M45.5,240.08h5.5M371.5,240.08h-6.2M45.5,236.96h5.5M371.5,236.96h-6.2M45.5,234.26h5.5M371.5,234.26h-6.2M45.5,231.87h5.5M371.5,231.87h-6.2M45.5,229.74h11.5M371.5,229.74h-11.5M45.5,215.71h5.5M371.5,215.71h-6.2M45.5,207.50h5.5M371.5,207.50h-6.2M45.5,201.68h5.5M371.5,201.68h-6.2M45.5,197.16h5.5M371.5,197.16h-6.2M45.5,193.47h5.5M371.5,193.47h-6.2M45.5,190.35h5.5M371.5,190.35h-6.2M45.5,187.65h5.5M371.5,187.65h-6.2M45.5,185.26h5.5M371.5,185.26h-6.2M45.5,183.13h11.5M371.5,183.13h-11.5M45.5,169.10h5.5M371.5,169.10h-6.2M45.5,160.89h5.5M371.5,160.89h-6.2M45.5,155.07h5.5M371.5,155.07h-6.2M45.5,150.55h5.5M371.5,150.55h-6.2M45.5,146.86h5.5M371.5,146.86h-6.2M45.5,143.74h5.5M371.5,143.74h-6.2M45.5,141.04h5.5M371.5,141.04h-6.2M45.5,138.65h5.5M371.5,138.65h-6.2M45.5,136.52h11.5M371.5,136.52h-11.5M45.5,122.49h5.5M371.5,122.49h-6.2M45.5,114.28h5.5M371.5,114.28h-6.2M45.5,108.46h5.5M371.5,108.46h-6.2M45.5,103.94h5.5M371.5,103.94h-6.2M45.5,100.25h5.5M371.5,100.25h-6.2M45.5,97.13h5.5M371.5,97.13h-6.2M45.5,94.43h5.5M371.5,94.43h-6.2M45.5,92.04h5.5M371.5,92.04h-6.2M45.5,89.91h11.5M371.5,89.91h-11.5M45.5,75.88h5.5M371.5,75.88h-6.2M45.5,67.67h5.5M371.5,67.67h-6.2M45.5,61.85h5.5M371.5,61.85h-6.2M45.5,57.33h5.5M371.5,57.33h-6.2M45.5,53.64h5.5M371.5,53.64h-6.2M45.5,50.52h5.5M371.5,50.52h-6.2M45.5,47.82h5.5M371.5,47.82h-6.2M45.5,45.43h5.5M371.5,45.43h-6.2M45.5,43.30h11.5M371.5,43.30h-11.5M45.5,29.27h5.5M371.5,29.27h-6.2M45.5,21.06h5.5M371.5,21.06h-6.2M45.5,477.49h5M371.5,477.49h-5M45.5,458.01h7M371.5,458.01h-7M45.5,442.09h5M371.5,442.09h-5M45.5,428.64h5M371.5,428.64h-5M45.5,416.98h5M371.5,416.98h-5M45.5,406.70h5M371.5,406.70h-5M45.5,397.50h7M371.5,397.50h-7M45.5,389.18h5M371.5,389.18h-5M45.5,381.58h5M371.5,381.58h-5M45.5,374.60h5M371.5,374.60h-5M45.5,368.13h5M371.5,368.13h-5M45.5,362.11h7M371.5,362.11h-7M45.5,356.47h5M371.5,356.47h-5M45.5,351.18h5M371.5,351.18h-5M45.5,346.19h5M371.5,346.19h-5M45.5,341.47h5M371.5,341.47h-5M45.5,336.99h7M371.5,336.99h-7M45.5,332.73h5M371.5,332.73h-5M45.5,328.67h5M371.5,328.67h-5M45.5,324.79h5M371.5,324.79h-5M45.5,321.08h5M371.5,321.08h-5"/>
</g>
<g stroke="#000" stroke-width="1" fill="none" shape-rendering="crispEdges">
<rect x="45.5" y="17.5" width="326.0" height="300.0"/>
<rect x="45.5" y="317.5" width="326.0" height="160.0"/>
</g>
<rect x="73.80" y="195.60" width="5.2" height="5.2" fill="#000"/>
<line x1="64.2" y1="211.15" x2="88.6" y2="211.15" stroke="#b8620e" stroke-width="1" stroke-dasharray="2.4,1.5"/>
<circle cx="76.40" cy="211.15" r="2.7" fill="none" stroke="#b8620e" stroke-width="1.1"/>
<line x1="64.2" y1="224.10" x2="88.6" y2="224.10" stroke="#3c9c28" stroke-width="1" stroke-dasharray="2.4,1.5"/>
<rect x="73.70" y="221.40" width="5.4" height="5.4" fill="none" stroke="#3c9c28" stroke-width="1"/>
<line x1="64.2" y1="237.05" x2="88.6" y2="237.05" stroke="#0000ff" stroke-width="1"/>
<path d="M73.60,239.55L79.20,239.55L76.40,234.05Z" fill="#0000ff"/>
<line x1="64.2" y1="250.00" x2="88.6" y2="250.00" stroke="#0aa0c4" stroke-width="1" stroke-dasharray="3.5,2,0.8,2"/>
<path d="M73.50,247.20L79.30,247.20L76.40,253.00Z" fill="#0aa0c4"/>
<line x1="64.2" y1="262.95" x2="88.6" y2="262.95" stroke="#ff0000" stroke-width="1" stroke-dasharray="0.9,1.6"/>
<path d="M76.40,259.85L78.70,262.95L76.40,266.05L74.10,262.95Z" fill="#ff0000"/>
<line x1="64.2" y1="275.90" x2="88.6" y2="275.90" stroke="#0aa8c0" stroke-width="1" stroke-dasharray="3.5,2,0.8,2"/>
<path d="M73.50,273.10L79.30,273.10L76.40,278.90Z" fill="#0aa8c0"/>
<text x="94.2" y="201.00" font-size="9.5">ALEPH</text>
<text x="94.2" y="213.95" font-size="9.5">Herwig++ 2.7.1 default</text>
<text x="94.2" y="226.90" font-size="9.5">Herwig 7.2.1 default</text>
<text x="94.2" y="239.85" font-size="9.5">Pythia 8.315 default</text>
<text x="94.2" y="252.80" font-size="9.5">Pythia 8.315 vincia-default</text>
<text x="94.2" y="265.75" font-size="9.5">Sherpa 2.2.9 default</text>
<text x="94.2" y="278.70" font-size="9.5">Vincia 2.3.01_8.243 default</text>
<text x="50.8" y="13.8" font-size="12.1">206 GeV ee</text>
<text x="366.8" y="13.8" font-size="12" text-anchor="end">γ*/Z (Hadronic)</text>
<text y="40.8" font-size="12"><tspan x="59.7">Out-of-plane p</tspan><tspan x="134.7" y="47.8" font-size="8.7">T</tspan><tspan x="143.7" y="40.8" font-size="12.25">in GeV w.r.t. thrust axes (</tspan><tspan x="280.2">E</tspan><tspan x="282.6" y="47.5" font-size="7.9">CMS</tspan><tspan x="300.2" y="40.8">=206 GeV)</tspan></text>
<text x="208.5" y="301.8" font-size="7.8" fill="#999" text-anchor="middle">(ALEPH_2004_I636645)</text>
<text x="39.4" y="48.80" font-size="11" text-anchor="end">10<tspan font-size="8.0" dy="-5.0" dx="0.0">3</tspan></text>
<text x="39.4" y="95.41" font-size="11" text-anchor="end">10<tspan font-size="8.0" dy="-5.0" dx="0.0">2</tspan></text>
<text x="40.8" y="235.24" font-size="11" text-anchor="end">10<tspan font-size="7.6" dy="-5.6" dx="-0.8">−1</tspan></text>
<text x="38.9" y="281.85" font-size="11" text-anchor="end">10<tspan font-size="7.6" dy="-5.6" dx="-0.8">−2</tspan></text>
<text x="40" y="141.82" font-size="11.2" text-anchor="end">10</text>
<text x="40" y="188.43" font-size="11.2" text-anchor="end">1</text>
<text x="38.2" y="341.29" font-size="11.4" text-anchor="end">2</text>
<text x="374" y="341.29" font-size="11.4">2</text>
<text x="38.2" y="401.80" font-size="11.4" text-anchor="end">1</text>
<text x="374" y="401.80" font-size="11.4">1</text>
<text x="38.2" y="462.31" font-size="11.4" text-anchor="end">0.5</text>
<text x="374" y="462.31" font-size="11.4">0.5</text>
<text x="51.77" y="489" font-size="11.4" text-anchor="middle">0</text>
<text x="177.15" y="489" font-size="11.4" text-anchor="middle">2</text>
<text x="302.54" y="489" font-size="11.4" text-anchor="middle">4</text>
<text y="502" font-size="11.8"><tspan x="318.5">p</tspan><tspan x="324.5" y="497.5" font-size="9.4">out</tspan><tspan x="324.7" y="508.6" font-size="8.4">T</tspan><tspan x="340.8" y="502">/</tspan><tspan x="348.3">GeV</tspan></text>
<text transform="translate(14.6,76.6) rotate(-90)" font-size="12">N</text>
<text transform="translate(14.6,58.5) rotate(-90)" font-size="12">dσ/dp</text>
<text transform="translate(21.7,28.3) rotate(-90)" font-size="8.5">T</text>
<text transform="translate(9.1,27.9) rotate(-90)" font-size="8.3">out</text>
<text transform="translate(18,427.9) rotate(-90)" font-size="8.9">Ratio to ALEPH</text>
<text transform="translate(380.6,127.6) rotate(-90)" font-size="9.4" fill="#777">Rivet 4.1.0, ≥ 2.4M events</text>
<text transform="translate(380.6,313.6) rotate(-90)" font-size="9.4" fill="#777">mcplots.cern.ch [arXiv:2401.10621]</text>
</svg></body></html>
